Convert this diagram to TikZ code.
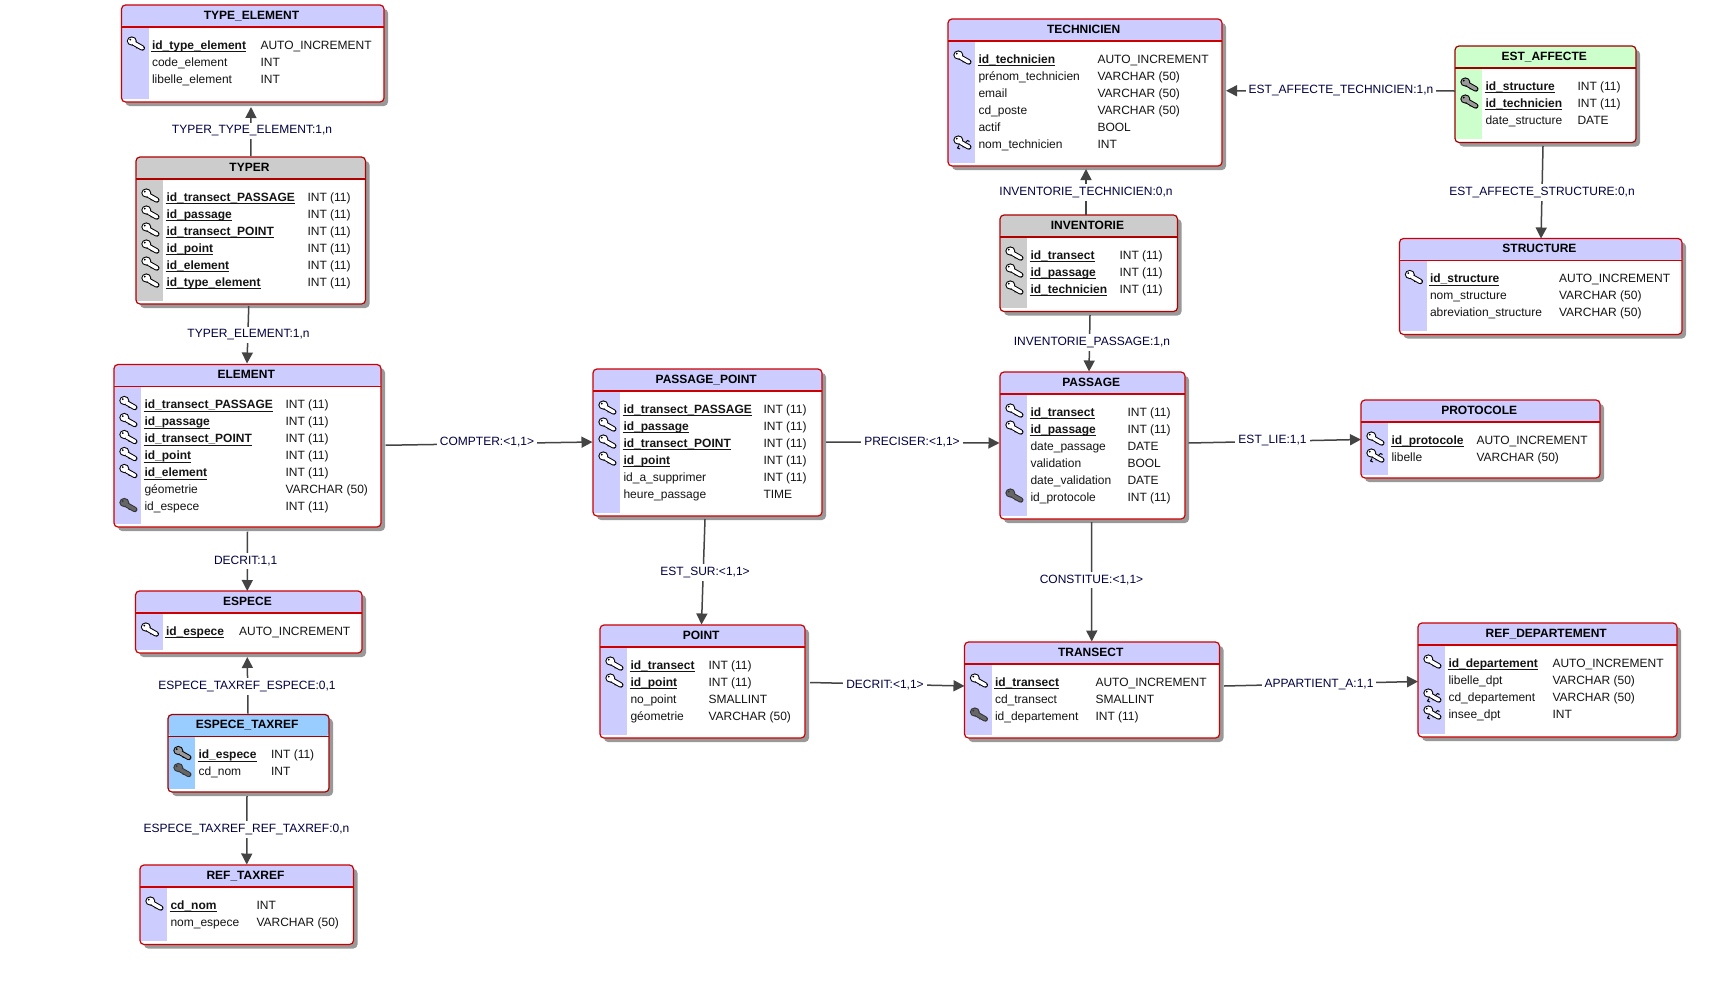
\documentclass[tikz,border=0pt]{standalone}
\usepackage{fontspec}
\setmainfont{Liberation Sans}
\usetikzlibrary{arrows.meta}
\definecolor{pur}{HTML}{CCCCFF}
\definecolor{gry}{HTML}{CCCCCC}
\definecolor{blu}{HTML}{99CCFF}
\definecolor{grn}{HTML}{CCFFCC}
\definecolor{purB}{HTML}{CC0000}
\definecolor{gryB}{HTML}{B00000}
\definecolor{bluB}{HTML}{A00000}
\definecolor{grnB}{HTML}{A00000}
\definecolor{navy}{HTML}{000040}
\definecolor{shadowc}{HTML}{999999}
\definecolor{linec}{HTML}{444444}
\tikzset{
  base text/.style={font=\fontsize{12}{14}\selectfont,inner sep=0pt,outer sep=0pt},
  tablebox/.style={rectangle,draw=none,inner sep=0pt,outer sep=0pt},
  title text/.style={base text,anchor=base,font=\fontsize{12}{14}\selectfont\bfseries},
  row text/.style={base text,anchor=base west,text=black!92},
  conn/.style={draw=linec,line width=1.5pt,-{Triangle[length=11pt,width=11pt]}},
  lbl/.style={base text,text=navy,fill=white,inner sep=3pt,yshift=-1.3pt}
}
\newcommand\keyshape[2]{%
  \draw[#2,line width=5.4pt,line cap=round] (-2,0) -- (6.8,5);
  \draw[#2,line width=1.2pt,line cap=round] (1,5) -- (3.5,2.5);
  \fill[#2] (-3.7,-2) circle[x radius=5,y radius=4.6];
  \fill[#1] (-3.7,-2) circle[x radius=3.9,y radius=3.5];
  \draw[#1,line width=3.4pt,line cap=round] (-1.5,0.3) -- (6.8,5);
  \fill[#2] (-5.2,-3.4) circle[radius=1];
}
\newcommand\kdrawW{\keyshape{white}{black}}
\newcommand\kdrawG{\keyshape{black!40}{black}}
\newcommand\kdrawD{\keyshape{black!60}{black!80}}
\newcommand\kdrawX{\keyshape{white}{black}\draw[black,line width=1pt] (3,1) -- (5.5,-1.5) -- (7.5,-0.5) (-3,3.5) -- (-4.5,6) -- (-2,7);}
\newcommand\kdrawN{}
\newcommand\fmtP[1]{\setbox0=\hbox{\textbf{#1}}\usebox0\llap{\rule[-3pt]{\dimexpr\wd0+1pt\relax}{1pt}}}
\newcommand\fmtN[1]{#1}
% name, title, x0, y0, x1, y1, colour, type column, rows
\newcommand\tbl[9]{%
  \pgfmathsetmacro\tcx{(#3+#5)/2}%
  \pgfmathsetmacro\tcy{(#4+#6)/2}%
  \pgfmathsetmacro\tw{#5-#3}%
  \pgfmathsetmacro\tht{#6-#4}%
  \fill[shadowc,rounded corners=4pt] (#3+4,#4+4) rectangle (#5+4,#6+4);
  \node[tablebox,fill=white,rounded corners=4pt,minimum width=\tw pt,minimum height=\tht pt] (#1) at (\tcx,\tcy) {};
  \fill[#7] (#3,#4+22) rectangle (#3+27,#6-3.5);
  \fill[#7,rounded corners=4pt] (#3,#4+22) -- (#3,#4) -- (#5,#4) -- (#5,#4+22) -- cycle;
  \draw[#7B,line width=1.2pt,rounded corners=4pt] (#3,#4) rectangle (#5,#6);
  \draw[#7B,line width=1.1pt] (#3,#4+22) -- (#5,#4+22);
  \node[title text] (#1-title) at (\tcx-1.3,#4+14.3) {#2};
  \foreach \k/\nm/\ty/\b [count=\i] in {#9} {
    \pgfmathsetmacro\by{#4+44+17*(\i-1)}
    \begin{scope}[shift={(#3+14,\by-6)}]
      \csname kdraw\k\endcsname
    \end{scope}
    \node[row text] (#1-n\i) at (#3+30.5,\by) {\csname fmt\b\endcsname{\nm}};
    \node[row text] (#1-t\i) at (#8+0.5,\by) {\ty};
  }
}
\begin{document}
\begin{tikzpicture}[x=1pt,y=-1pt]
\useasboundingbox (0,0) rectangle (1732,993);
\fill[white] (0,0) rectangle (1732,993);

\tbl{typeelement}{TYPE\_ELEMENT}{121.5}{5}{384}{102}{pur}{260}{W/id\_type\_element/AUTO\_INCREMENT/P,N/code\_element/INT/N,N/libelle\_element/INT/N}
\tbl{typer}{TYPER}{136}{157}{365.5}{304}{gry}{307}{W/id\_transect\_PASSAGE/INT (11)/P,W/id\_passage/INT (11)/P,W/id\_transect\_POINT/INT (11)/P,W/id\_point/INT (11)/P,W/id\_element/INT (11)/P,W/id\_type\_element/INT (11)/P}
\tbl{element}{ELEMENT}{114}{364.5}{381}{527}{pur}{285}{W/id\_transect\_PASSAGE/INT (11)/P,W/id\_passage/INT (11)/P,W/id\_transect\_POINT/INT (11)/P,W/id\_point/INT (11)/P,W/id\_element/INT (11)/P,N/géometrie/VARCHAR (50)/N,D/id\_espece/INT (11)/N}
\tbl{espece}{ESPECE}{135.5}{591}{362}{653}{pur}{238.7}{W/id\_espece/AUTO\_INCREMENT/P}
\tbl{especetaxref}{ESPECE\_TAXREF}{168}{714.5}{329}{792}{blu}{270.6}{G/id\_espece/INT (11)/P,D/cd\_nom/INT/N}
\tbl{reftaxref}{REF\_TAXREF}{140}{865}{353.5}{944.5}{pur}{256}{W/cd\_nom/INT/P,N/nom\_espece/VARCHAR (50)/N}
\tbl{passagepoint}{PASSAGE\_POINT}{593}{369}{822}{516}{pur}{763}{W/id\_transect\_PASSAGE/INT (11)/P,W/id\_passage/INT (11)/P,W/id\_transect\_POINT/INT (11)/P,W/id\_point/INT (11)/P,N/id\_a\_supprimer/INT (11)/N,N/heure\_passage/TIME/N}
\tbl{point}{POINT}{600}{625}{805}{738}{pur}{708}{W/id\_transect/INT (11)/P,W/id\_point/INT (11)/P,N/no\_point/SMALLINT/N,N/géometrie/VARCHAR (50)/N}
\tbl{technicien}{TECHNICIEN}{948}{19}{1222}{166}{pur}{1097}{W/id\_technicien/AUTO\_INCREMENT/P,N/prénom\_technicien/VARCHAR (50)/N,N/email/VARCHAR (50)/N,N/cd\_poste/VARCHAR (50)/N,N/actif/BOOL/N,X/nom\_technicien/INT/N}
\tbl{inventorie}{INVENTORIE}{1000}{215}{1177.5}{311.5}{gry}{1119}{W/id\_transect/INT (11)/P,W/id\_passage/INT (11)/P,W/id\_technicien/INT (11)/P}
\tbl{passage}{PASSAGE}{1000}{372}{1185}{519}{pur}{1127}{W/id\_transect/INT (11)/P,W/id\_passage/INT (11)/P,N/date\_passage/DATE/N,N/validation/BOOL/N,N/date\_validation/DATE/N,D/id\_protocole/INT (11)/N}
\tbl{transect}{TRANSECT}{964.5}{642}{1219.5}{738}{pur}{1095}{W/id\_transect/AUTO\_INCREMENT/P,N/cd\_transect/SMALLINT/N,D/id\_departement/INT (11)/N}
\tbl{estaffecte}{EST\_AFFECTE}{1455}{46}{1636}{142.5}{grn}{1577}{G/id\_structure/INT (11)/P,G/id\_technicien/INT (11)/P,N/date\_structure/DATE/N}
\tbl{structure}{STRUCTURE}{1399.5}{238.5}{1682}{334.5}{pur}{1558.6}{W/id\_structure/AUTO\_INCREMENT/P,N/nom\_structure/VARCHAR (50)/N,N/abreviation\_structure/VARCHAR (50)/N}
\tbl{protocole}{PROTOCOLE}{1361}{400}{1600}{478}{pur}{1476}{W/id\_protocole/AUTO\_INCREMENT/P,X/libelle/VARCHAR (50)/N}
\tbl{refdep}{REF\_DEPARTEMENT}{1418}{623}{1677}{737}{pur}{1552}{W/id\_departement/AUTO\_INCREMENT/P,N/libelle\_dpt/VARCHAR (50)/N,X/cd\_departement/VARCHAR (50)/N,X/insee\_dpt/INT/N}

% connectors
\draw[conn] ([shift={(0,-1)}]typer.north) -- ([shift={(-1.75,5)}]typeelement.south);
\draw[conn] ([shift={(-2,2)}]typer.south) -- ([shift={(-0.5,-1)}]element.north);
\draw[conn] ([shift={(0,4.5)}]element.south) -- ([shift={(-1.5,0)}]espece.north);
\draw[conn] ([shift={(-0.5,-1)}]especetaxref.north) -- ([shift={(-1.5,4)}]espece.south);
\draw[conn] ([shift={(-1.5,4)}]especetaxref.south) -- ([shift={(0,-0.5)}]reftaxref.north);
\draw[conn] ([shift={(4.5,-0.5)}]element.east) -- ([shift={(-0.5,-0.5)}]passagepoint.west);
\draw[conn] ([shift={(4,-0.5)}]passagepoint.east) -- ([shift={(-0.5,-2.5)}]passage.west);
\draw[conn] ([shift={(-2.5,3)}]passagepoint.south) -- ([shift={(-1,-0.5)}]point.north);
\draw[conn] ([shift={(5,1)}]point.east) -- ([shift={(0,-4)}]transect.west);
\draw[conn] ([shift={(-1,3)}]passage.south) -- ([shift={(-0.25,-0.5)}]transect.north);
\draw[conn] ([shift={(1.25,3.5)}]inventorie.south) -- ([shift={(-3.5,-0.5)}]passage.north);
\draw[conn] ([shift={(-2.75,0)}]inventorie.north) -- ([shift={(1,3)}]technicien.south);
\draw[conn] ([shift={(0,-3.25)}]estaffecte.west) -- ([shift={(4,-1.75)}]technicien.east);
\draw[conn] ([shift={(-2.5,3.5)}]estaffecte.south) -- ([shift={(0.25,0)}]structure.north);
\draw[conn] ([shift={(3.5,-2.5)}]passage.east) -- ([shift={(0,0.5)}]protocole.west);
\draw[conn] ([shift={(4.5,-4)}]transect.east) -- ([shift={(0,1.5)}]refdep.west);

% labels
\node[lbl] (l1) at (252,129.7) {TYPER\_TYPE\_ELEMENT:1,n};
\node[lbl] (l2) at (248.5,333.6) {TYPER\_ELEMENT:1,n};
\node[lbl] (l3) at (245.7,559.7) {DECRIT:1,1};
\node[lbl] (l4) at (247,685) {ESPECE\_TAXREF\_ESPECE:0,1};
\node[lbl] (l5) at (246.5,828.5) {ESPECE\_TAXREF\_REF\_TAXREF:0,n};
\node[lbl] (l6) at (487,440.7) {COMPTER:<1,1>};
\node[lbl] (l7) at (912,440.7) {PRECISER:<1,1>};
\node[lbl] (l8) at (705,571) {EST\_SUR:<1,1>};
\node[lbl] (l9) at (885,684) {DECRIT:<1,1>};
\node[lbl] (l10) at (1091.5,579) {CONSTITUE:<1,1>};
\node[lbl] (l11) at (1092,341.5) {INVENTORIE\_PASSAGE:1,n};
\node[lbl] (l12) at (1086,191) {INVENTORIE\_TECHNICIEN:0,n};
\node[lbl] (l13) at (1341,89.7) {EST\_AFFECTE\_TECHNICIEN:1,n};
\node[lbl] (l14) at (1542,191) {EST\_AFFECTE\_STRUCTURE:0,n};
\node[lbl] (l15) at (1272.5,439.6) {EST\_LIE:1,1};
\node[lbl] (l16) at (1319,683.7) {APPARTIENT\_A:1,1};
\end{tikzpicture}
\end{document}
